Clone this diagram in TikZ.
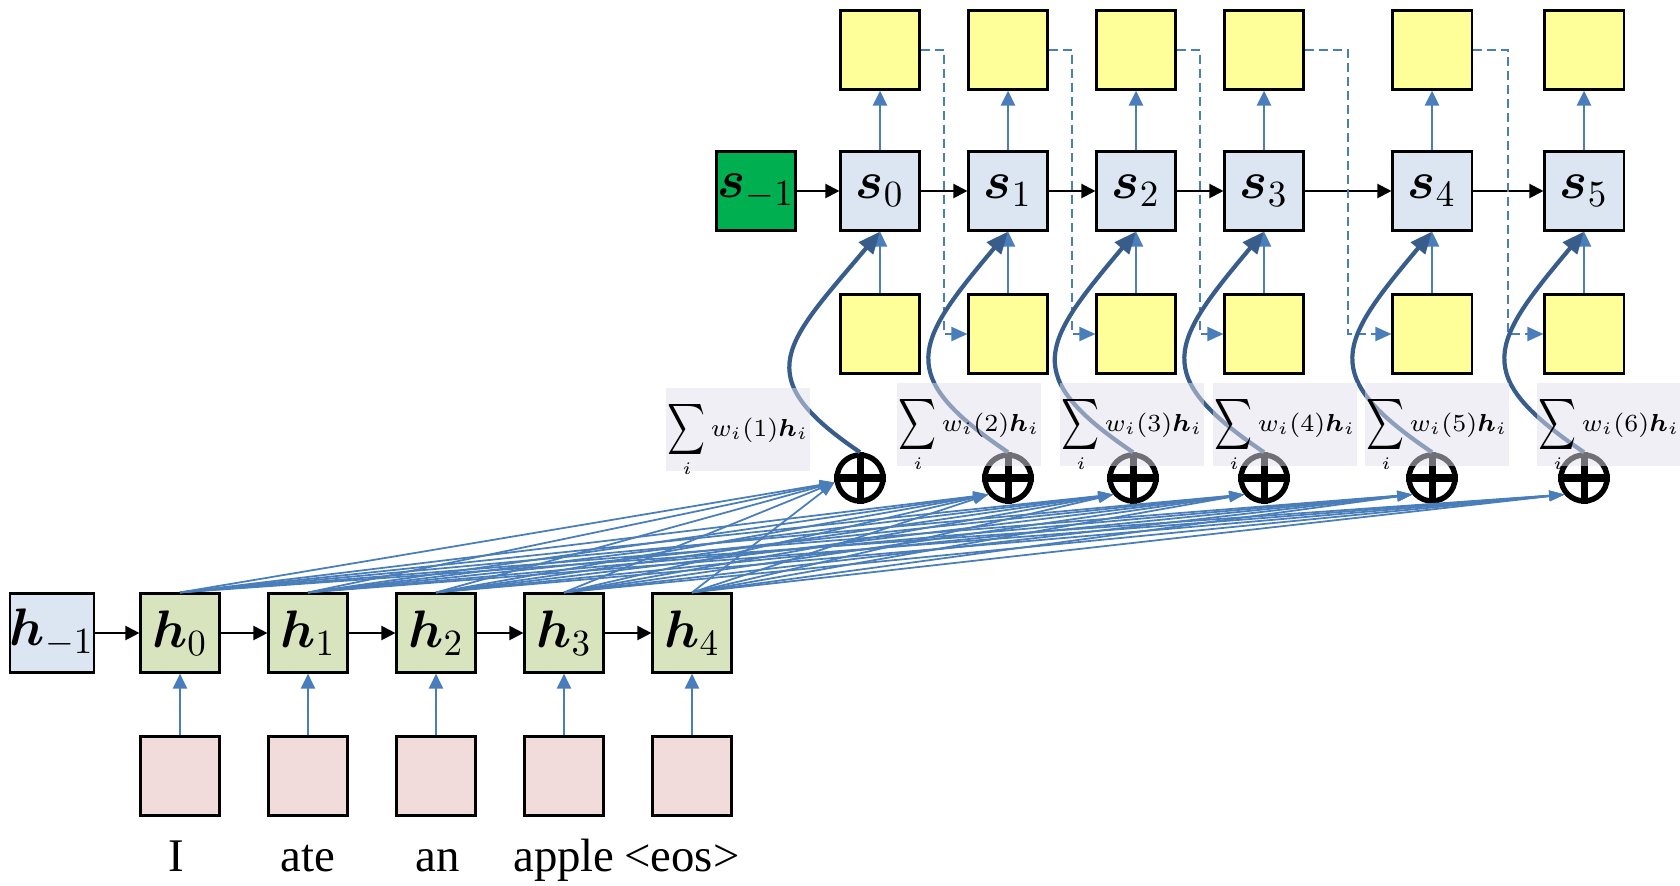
\RequirePackage{fix-cm}
\documentclass[tikz,border=0pt]{standalone}
\usepackage{amsmath}
\usepackage{graphicx}
\usepackage{fontspec}
\newfontfamily\wordfont{Liberation Serif}
\usetikzlibrary{arrows.meta,calc}

\definecolor{outyellow}{RGB}{255,255,153}
\definecolor{decblue}{RGB}{220,230,242}
\definecolor{initgreen}{RGB}{0,176,80}
\definecolor{encgreen}{RGB}{215,228,189}
\definecolor{embpink}{RGB}{242,220,219}
\definecolor{lineblue}{RGB}{74,126,187}
\definecolor{ctxblue}{RGB}{56,93,138}
\definecolor{sumgray}{RGB}{225,223,235}

\newcommand{\bigsum}{\mathop{\vcenter{\hbox{\scalebox{0.95}[1.45]{$\displaystyle\sum$}}}}\limits}

\begin{document}
\begin{tikzpicture}[x=0.01cm, y=-0.01cm,
  cell/.style={draw, line width=0.6pt, minimum size=0.79cm, inner sep=0pt,
    font=\fontsize{15}{17}\selectfont},
  blk/.style={-{Triangle[length=0.14cm,width=0.14cm]}, line width=0.6pt},
  uparrow/.style={-{Triangle[length=0.15cm,width=0.14cm]}, lineblue, line width=0.7pt},
  att/.style={-{Triangle[length=0.15cm,width=0.1cm]}, lineblue, line width=0.5pt},
  fbline/.style={-{Triangle[length=0.16cm,width=0.14cm]}, lineblue, line width=0.6pt,
    dash pattern=on 0.09cm off 0.05cm},
  ctx/.style={-{Triangle[length=0.22cm,width=0.18cm]}, ctxblue, line width=1.2pt},
  oplus/.style={circle, draw, line width=1.55pt, minimum size=0.46cm, inner sep=0pt},
  sumlbl/.style={fill=sumgray, fill opacity=0.5, text opacity=1, minimum width=1.44cm,
    minimum height=0.83cm, inner sep=0pt, text height=0.38cm, text depth=0.25cm,
    font=\fontsize{7}{9}\selectfont},
  word/.style={anchor=base, font=\wordfont\fontsize{13.3}{16}\selectfont}]
\useasboundingbox (0,0) rectangle (1680,885);

% encoder
\node[cell, fill=decblue] (hm) at (52,633) {$\boldsymbol{h}_{-1}$};
\foreach \x [count=\i from 0] in {180,308,...,692} {
  \node[cell, fill=encgreen] (h\i) at (\x,633) {$\boldsymbol{h}_{\i}$};
  \node[cell, fill=embpink] (e\i) at (\x,776) {};
  \draw[uparrow] (e\i) -- (h\i);
}
\draw[blk] (hm) -- (h0);
\foreach \i/\j in {0/1,1/2,2/3,3/4}
  \draw[blk] (h\i) -- (h\j);

\node[word] (w0) at (176,871) {I};
\node[word] (w1) at (308,871) {ate};
\node[word] (w2) at (438,871) {an};
\node[word] (w3) at (564,871) {apple};
\node[word] (w4) at (682,871) {<eos>};

% decoder
\node[cell, fill=initgreen] (sm) at (756,191) {$\boldsymbol{s}_{-1}$};
\foreach \x [count=\i from 0] in {880,1008,1136,1264,1432,1584} {
  \node[cell, fill=decblue] (s\i) at (\x,191) {$\boldsymbol{s}_{\i}$};
  \node[cell, fill=outyellow] (y\i) at (\x,50) {};
  \node[cell, fill=outyellow] (x\i) at (\x,334) {};
  \draw[uparrow] (s\i) -- (y\i);
  \draw[uparrow] (x\i) -- (s\i);
}
\draw[blk] (sm) -- (s0);
\foreach \i/\j in {0/1,1/2,2/3,3/4,4/5} {
  \draw[blk] (s\i) -- (s\j);
  \draw[fbline] (y\i.east) -- ($(y\i.east)!.5!(y\j.west)$) |- (x\j.west);
}

% attention sums
\foreach \x [count=\k] in {860,1008,1133,1264,1432,1584} {
  \node[oplus] (p\k) at (\x,478) {};
  \draw[line width=2pt] (p\k.north) -- (p\k.south) (p\k.west) -- (p\k.east);
}
\foreach \k/\a in {1/190,2/220,3/220,4/220,5/220,6/220}
  \foreach \j in {0,...,4}
    \draw[att] (h\j.north) -- (p\k.\a);
\foreach \k [count=\i from 0] in {1,...,6}
  \draw[ctx] (p\k.north) .. controls +(-114,-77) and +(-94,112) .. (s\i.south);

\foreach \cx/\cy [count=\k] in {738/429.5,969/424.5,1132/424.5,1285/424.5,1437/424.5,1609/424.5}
  \node[sumlbl] (c\k) at (\cx,\cy) {$\bigsum_i w_i(\k)\boldsymbol{h}_i$};
\end{tikzpicture}
\end{document}
